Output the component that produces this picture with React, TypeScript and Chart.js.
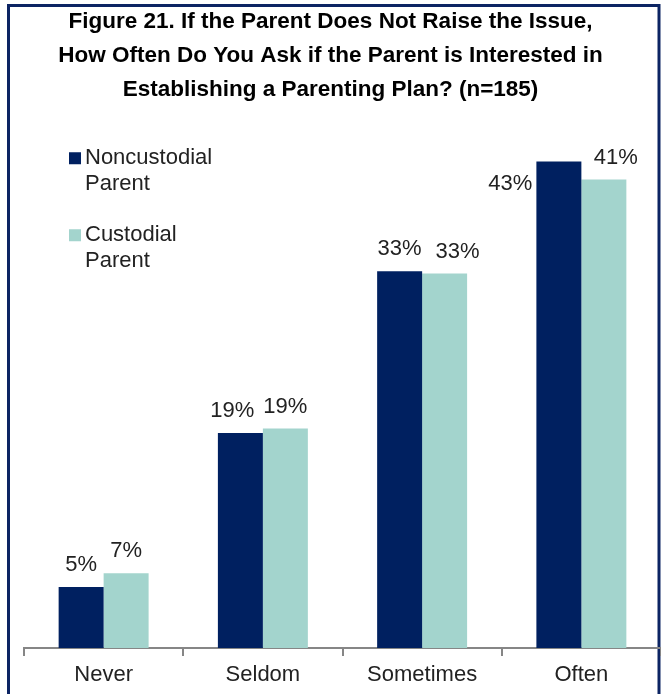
import { useEffect, useRef } from 'react';
import { Chart, registerables } from 'chart.js';

Chart.register(...registerables);

const TITLE_LINES = [
  'Figure 21. If the Parent Does Not Raise the Issue,',
  'How Often Do You Ask if the Parent is Interested in',
  'Establishing a Parenting Plan? (n=185)',
];
const CATEGORIES = ['Never', 'Seldom', 'Sometimes', 'Often'];
const SERIES_LABELS = ['Noncustodial Parent', 'Custodial Parent'];
const NONCUSTODIAL = [5.4, 19.0, 33.3, 43.0];
const CUSTODIAL = [6.6, 19.4, 33.1, 41.4];
const Y_MAX = 47;

// horizontal nudges of the value labels (style only, px)
const LABEL_NUDGE = [
  [0, -8, 0, 0],
  [0, 0, 13, 12],
];

const NAVY = '#002060';
const TEAL = '#A3D4CD';
const FRAME = '#0C2463';
const AXIS_GRAY = '#868686';
const TEXT = '#222222';
const FONT = '"Liberation Sans", Arial, sans-serif';

const framePlugin = {
  id: 'frame',
  beforeDraw(chart: any) {
    const { ctx, width, height } = chart;
    ctx.save();
    ctx.fillStyle = '#ffffff';
    ctx.fillRect(0, 0, width, height);
    ctx.strokeStyle = FRAME;
    ctx.lineWidth = 3;
    ctx.beginPath();
    ctx.moveTo(8.5, height + 5);
    ctx.lineTo(8.5, 5.5);
    ctx.lineTo(width - 2, 5.5);
    ctx.lineTo(width - 2, height + 5);
    ctx.stroke();
    ctx.restore();
  },
};

const legendPlugin = {
  id: 'customLegend',
  afterDraw(chart: any) {
    const { ctx, chartArea } = chart;
    const x0 = chartArea.left + 45;
    let baseline = chartArea.top + 48;
    ctx.save();
    ctx.font = `22px ${FONT}`;
    ctx.textBaseline = 'alphabetic';
    ctx.textAlign = 'left';
    chart.data.datasets.forEach((ds: any) => {
      ctx.fillStyle = ds.backgroundColor;
      ctx.fillRect(x0, baseline - 12, 12, 12);
      ctx.fillStyle = TEXT;
      const words = String(ds.label).split(' ');
      words.forEach((w: string, i: number) => {
        ctx.fillText(w, x0 + 16, baseline + i * 26);
      });
      baseline += 77;
    });
    ctx.restore();
  },
};

const dataLabelPlugin = {
  id: 'dataLabels',
  afterDatasetsDraw(chart: any) {
    const { ctx } = chart;
    ctx.save();
    ctx.font = `22px ${FONT}`;
    ctx.fillStyle = TEXT;
    chart.data.datasets.forEach((ds: any, di: number) => {
      const meta = chart.getDatasetMeta(di);
      meta.data.forEach((bar: any, i: number) => {
        const text = Math.round(ds.data[i]) + '%';
        const last = i === ds.data.length - 1;
        if (di === 0 && last) {
          ctx.textAlign = 'right';
          ctx.textBaseline = 'middle';
          ctx.fillText(text, bar.x - bar.width / 2 - 4, bar.y + 22);
        } else {
          ctx.textAlign = 'center';
          ctx.textBaseline = 'alphabetic';
          ctx.fillText(text, bar.x + LABEL_NUDGE[di][i], bar.y - 16);
        }
      });
    });
    ctx.restore();
  },
};

export default function App() {
  const canvasRef = useRef<HTMLCanvasElement | null>(null);

  useEffect(() => {
    if (!canvasRef.current) return;
    const chart = new Chart(canvasRef.current, {
      type: 'bar',
      data: {
        labels: CATEGORIES,
        datasets: [
          { label: SERIES_LABELS[0], data: NONCUSTODIAL, backgroundColor: NAVY, borderWidth: 0 },
          { label: SERIES_LABELS[1], data: CUSTODIAL, backgroundColor: TEAL, borderWidth: 0 },
        ],
      },
      options: {
        animation: false,
        responsive: false,
        devicePixelRatio: 1,
        layout: { padding: { left: 0, right: 0, top: 0, bottom: 0 } },
        datasets: { bar: { categoryPercentage: 0.565, barPercentage: 1 } },
        scales: {
          x: {
            grid: {
              display: true,
              drawOnChartArea: false,
              drawTicks: true,
              tickLength: 8,
              color: AXIS_GRAY,
              lineWidth: 2,
              offset: true,
            },
            border: { display: true, color: AXIS_GRAY, width: 2 },
            ticks: { color: TEXT, font: { family: FONT, size: 22, lineHeight: 1 }, padding: 8 },
          },
          y: {
            min: 0,
            max: Y_MAX,
            display: true,
            grid: { display: false },
            border: { display: false },
            ticks: { display: false },
            afterFit: (scale: any) => {
              scale.width = 24;
            },
          },
        },
        plugins: {
          legend: { display: false },
          tooltip: { enabled: false },
          title: {
            display: true,
            text: TITLE_LINES,
            color: '#000000',
            font: { family: FONT, size: 22.5, weight: 'bold', lineHeight: 1.5 },
            padding: { top: 5, bottom: 10 },
          },
        },
      },
      plugins: [framePlugin, legendPlugin, dataLabelPlugin],
    });
    return () => chart.destroy();
  }, []);

  return (
    <div style={{ position: 'absolute', left: 0, top: 0, width: 661, height: 694 }}>
      <canvas ref={canvasRef} width={661} height={694} style={{ display: 'block' }} />
    </div>
  );
}
